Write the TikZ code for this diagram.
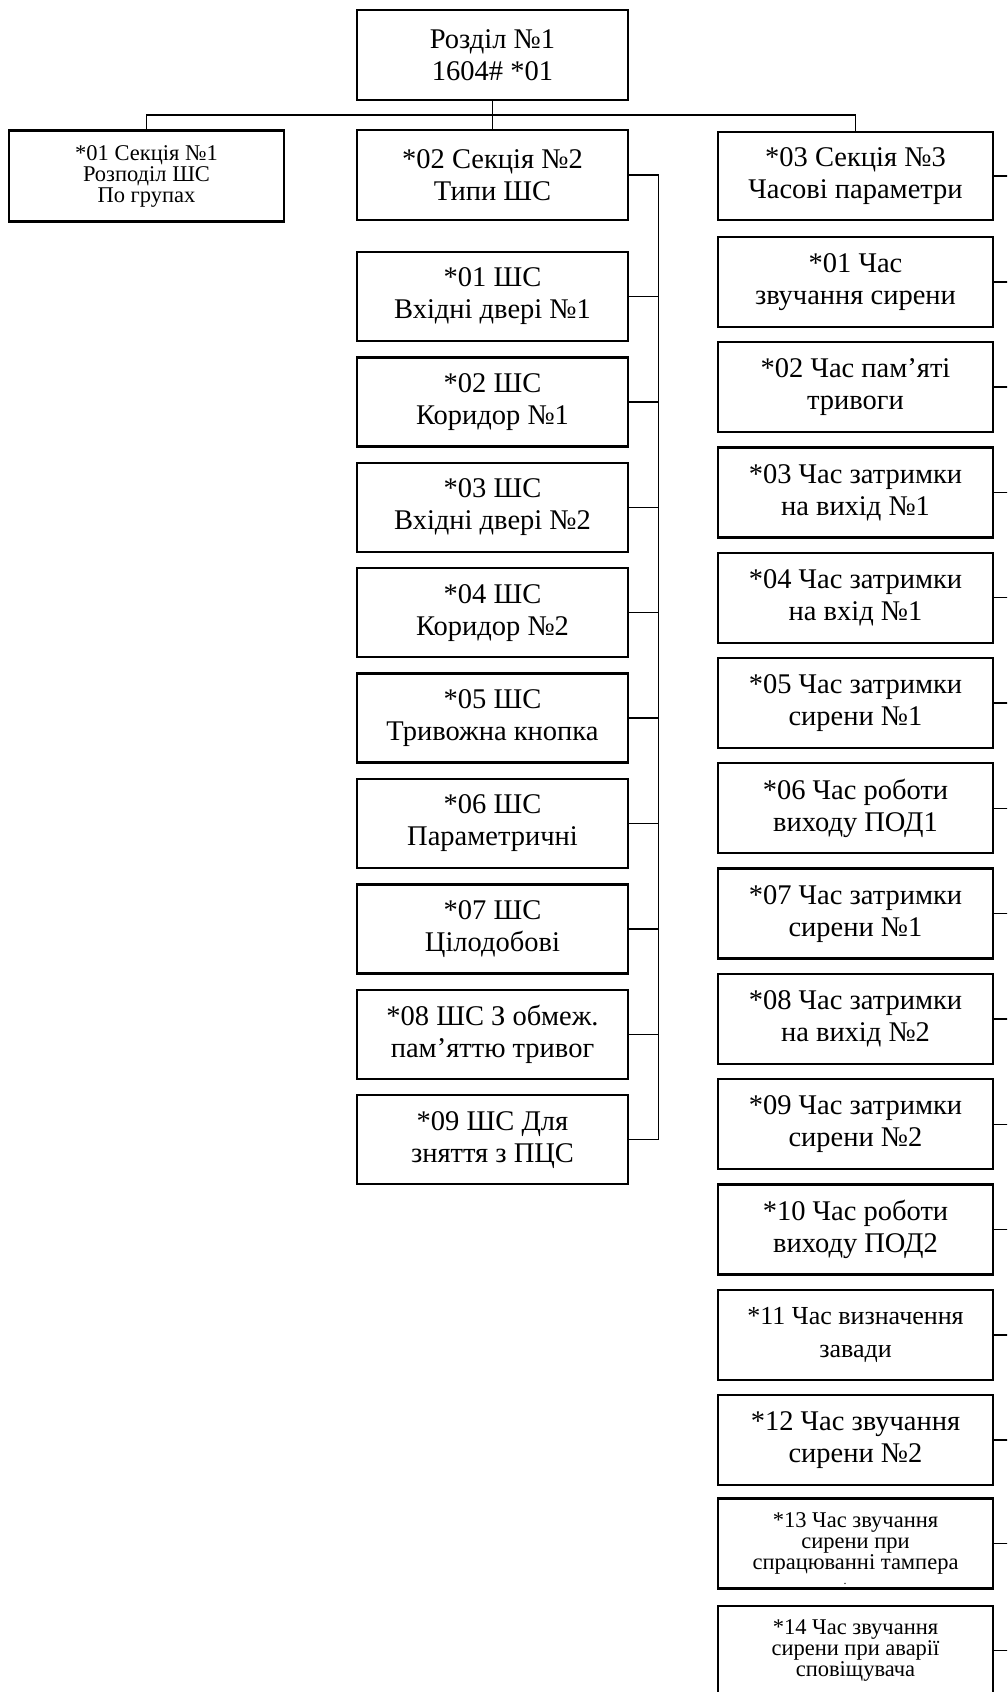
\documentclass[tikz,border=0pt]{standalone}
\usepackage{fontspec}
\setmainfont{Liberation Serif}
\begin{document}
\begin{tikzpicture}[x=1pt,y=-1pt,
  box/.style={draw, line width=2.3pt, minimum width=271pt, minimum height=89pt, inner sep=0pt, align=center, font=\fontsize{28.5}{32}\selectfont},
  rbox/.style={box, minimum width=275pt, minimum height=90pt},
  smallfont/.style={font=\fontsize{22.5}{21}\selectfont},
  midfont/.style={font=\fontsize{26}{33}\selectfont},
  conn/.style={draw, line width=1.4pt}]
\useasboundingbox (0,0) rectangle (1007,1692);
\fill[white] (0,0) rectangle (1007,1692);
\clip (0,0) rectangle (1007,1692);

% top level
\node[box, minimum height=90pt] (top) at (492.5,55) {Розділ №1\\1604\# *01};
\node[rbox, minimum height=91pt, smallfont] (b1) at (146.5,176) {*01 Секція №1\\Розподіл ШС\\По групах};
\node[box, minimum height=90pt] (b2) at (492.5,175) {*02 Секція №2\\Типи ШС};
\node[rbox, minimum height=88pt] (b3) at (855.5,176) {*03 Секція №3\\Часові параметри};

% middle column
\node[box] (c1) at (492.5,296.5) {*01 ШС\\Вхідні двері №1};
\node[box] (c2) at (492.5,401.9) {*02 ШС\\Коридор №1};
\node[box] (c3) at (492.5,507.3) {*03 ШС\\Вхідні двері №2};
\node[box] (c4) at (492.5,612.7) {*04 ШС\\Коридор №2};
\node[box] (c5) at (492.5,718.1) {*05 ШС\\Тривожна кнопка};
\node[box] (c6) at (492.5,823.5) {*06 ШС\\Параметричні};
\node[box] (c7) at (492.5,928.9) {*07 ШС\\Цілодобові};
\node[box] (c8) at (492.5,1034.3) {*08 ШС З обмеж.\\пам’яттю тривог};
\node[box] (c9) at (492.5,1139.7) {*09 ШС Для\\зняття з ПЦС};

% right column
\node[rbox] (r1)  at (855.5,281.8)  {*01 Час\\звучання сирени};
\node[rbox] (r2)  at (855.5,387.1)  {*02 Час пам’яті\\тривоги};
\node[rbox] (r3)  at (855.5,492.4)  {*03 Час затримки\\на вихід №1};
\node[rbox] (r4)  at (855.5,597.7)  {*04 Час затримки\\на вхід №1};
\node[rbox] (r5)  at (855.5,703.0)  {*05 Час затримки\\сирени №1};
\node[rbox] (r6)  at (855.5,808.3)  {*06 Час роботи\\виходу ПОД1};
\node[rbox] (r7)  at (855.5,913.6)  {*07 Час затримки\\сирени №1};
\node[rbox] (r8)  at (855.5,1018.9) {*08 Час затримки\\на вихід №2};
\node[rbox] (r9)  at (855.5,1124.2) {*09 Час затримки\\сирени №2};
\node[rbox] (r10) at (855.5,1229.5) {*10 Час роботи\\виходу ПОД2};
\node[rbox, midfont] (r11) at (855.5,1334.8) {*11 Час визначення\\завади};
\node[rbox] (r12) at (855.5,1440.1) {*12 Час звучання\\сирени №2};
\node[rbox, smallfont] (r13) at (855.5,1543.5) {*13 Час звучання\\сирени при\\спрацюванні тампера};
\node[font=\fontsize{12}{12}\selectfont, inner sep=0pt] (r13dot) at (845,1584) {.};
\node[rbox, smallfont] (r14) at (855.5,1650.7) {*14 Час звучання\\сирени при аварії\\сповіщувача};

% connectors
\coordinate (hub) at (492.5,115);
\coordinate (busM) at (658.5,0);
\coordinate (busR) at (1012,0);
\draw[conn] (top) -- (b2);
\draw[conn] (b1.north) |- (hub) -| (b3.north);
\draw[conn] (b2.east) -- (b2.east -| busM) -- (c9.east -| busM) -- (c9.east);
\foreach \n in {c1,c2,c3,c4,c5,c6,c7,c8}
  \draw[conn] (\n.east) -- (\n.east -| busM);
\foreach \n in {b3,r1,r2,r3,r4,r5,r6,r7,r8,r9,r10,r11,r12,r13,r14}
  \draw[conn] (\n.east) -- (\n.east -| busR);
\end{tikzpicture}
\end{document}
